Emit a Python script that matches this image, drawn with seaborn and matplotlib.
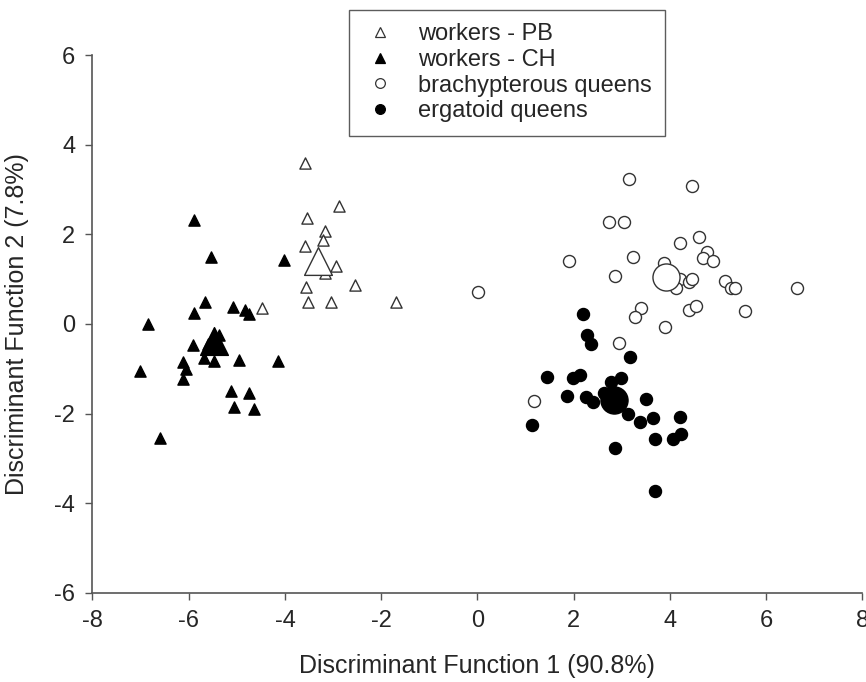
import numpy as np
import pandas as pd
import matplotlib.pyplot as plt
import seaborn as sns
from matplotlib.lines import Line2D

# discriminant scores
pb_x = [-3.59, -2.88, -3.54, -3.16, -3.21, -3.58, -2.94, -3.16, -3.56, -2.55, -3.53, -3.04, -1.70, -4.48]
pb_y = [3.59, 2.63, 2.37, 2.07, 1.87, 1.75, 1.30, 1.13, 0.83, 0.87, 0.49, 0.49, 0.50, 0.35]

ch_x = [-5.88, -5.54, -4.03, -5.66, -5.88, -5.07, -4.84, -4.74, -6.85, -5.47, -5.38, -5.60,
        -5.92, -5.69, -5.47, -4.95, -4.14, -6.11, -6.05, -7.01, -6.11, -5.12, -4.75, -5.05,
        -4.64, -6.60]
ch_y = [2.33, 1.50, 1.43, 0.48, 0.25, 0.38, 0.31, 0.22, -0.01, -0.22, -0.25, -0.45,
        -0.48, -0.75, -0.83, -0.80, -0.83, -0.85, -1.00, -1.04, -1.23, -1.50, -1.54, -1.86,
        -1.90, -2.54]

bq_x = [3.16, 4.46, 2.73, 3.04, 4.60, 4.22, 4.78, 4.68, 4.89, 1.91, 3.24, 3.88, 4.21, 4.40,
        4.46, 4.13, 2.86, 5.14, 5.26, 5.35, 6.64, 3.39, 3.28, 4.39, 4.54, 5.57, 3.89, 2.94,
        1.17, 0.01]
bq_y = [3.23, 3.08, 2.27, 2.27, 1.95, 1.81, 1.60, 1.47, 1.40, 1.40, 1.49, 1.35, 1.00, 0.94,
        1.01, 0.81, 1.07, 0.97, 0.81, 0.80, 0.81, 0.36, 0.16, 0.31, 0.39, 0.28, -0.07, -0.43,
        -1.72, 0.72]

eq_x = [2.19, 2.28, 2.36, 3.18, 1.45, 1.99, 2.13, 2.99, 2.78, 1.87, 2.25, 2.41, 2.63, 3.51,
        3.13, 3.37, 3.65, 4.20, 4.23, 4.07, 3.70, 1.14, 2.85, 3.69]
eq_y = [0.22, -0.25, -0.44, -0.74, -1.18, -1.20, -1.13, -1.21, -1.30, -1.61, -1.63, -1.75,
        -1.54, -1.67, -2.00, -2.19, -2.10, -2.07, -2.45, -2.58, -2.56, -2.25, -2.78, -3.72]

# group centroids
cen_x = [-3.32, -5.48, 3.91, 2.83]
cen_y = [1.41, -0.38, 1.04, -1.69]

groups = ['workers - PB', 'workers - CH', 'brachypterous queens', 'ergatoid queens']
markers = ['^', '^', 'o', 'o']
filled = [False, True, False, True]
xs = [pb_x, ch_x, bq_x, eq_x]
ys = [pb_y, ch_y, bq_y, eq_y]

sns.set_style('ticks')
plt.rcParams['font.family'] = ['Liberation Sans', 'DejaVu Sans']
plt.rcParams['axes.unicode_minus'] = False

fig = plt.figure(figsize=(8.66, 6.82), dpi=100)
ax = fig.add_axes([0.1068, 0.131, 0.889, 0.788])

edge = '#333333'
for g, m, f, x, y, cx, cy in zip(groups, markers, filled, xs, ys, cen_x, cen_y):
    df = pd.DataFrame({'x': x, 'y': y})
    fc = 'black' if f else 'white'
    ec = 'black' if f else edge
    sz = 65 if m == '^' else 75
    sns.scatterplot(data=df, x='x', y='y', marker=m, s=sz, color=fc,
                    edgecolor=ec, linewidth=1.0, ax=ax, legend=False, zorder=3)
    big = 400 if m == '^' else 380
    ax.scatter([cx], [cy], marker=m, s=big, c=fc, edgecolors=ec,
               linewidths=1.0, zorder=4)

ax.set_xlim(-8, 8)
ax.set_ylim(-6, 6)
ax.set_xticks(np.arange(-8, 9, 2))
ax.set_yticks(np.arange(-6, 7, 2))
ax.set_xlabel('Discriminant Function 1 (90.8%)', fontsize=18)
ax.set_ylabel('Discriminant Function 2 (7.8%)', fontsize=18)
ax.xaxis.set_label_coords(0.5, -0.115)
ax.yaxis.set_label_coords(-0.082, 0.5)
ax.tick_params(labelsize=17, length=5, width=1, color='#555555', direction='out', pad=7.5)
sns.despine(ax=ax)
for sp in ['left', 'bottom']:
    ax.spines[sp].set_color('#555555')
    ax.spines[sp].set_linewidth(1.2)

handles = []
for g, m, f in zip(groups, markers, filled):
    handles.append(Line2D([], [], linestyle='none', marker=m, markersize=7,
                          markerfacecolor='black' if f else 'white',
                          markeredgecolor='black' if f else edge,
                          markeredgewidth=0.9, label=g))
leg = fig.legend(handles=handles, loc='upper left', bbox_to_anchor=(0.403, 0.986),
                 borderaxespad=0, fontsize=17, frameon=True, fancybox=False,
                 edgecolor='#333333', handletextpad=0.85, labelspacing=0.16,
                 borderpad=0.57, handlelength=1.5)
leg.get_frame().set_linewidth(1.0)

fig.savefig('out.png', dpi=100)
